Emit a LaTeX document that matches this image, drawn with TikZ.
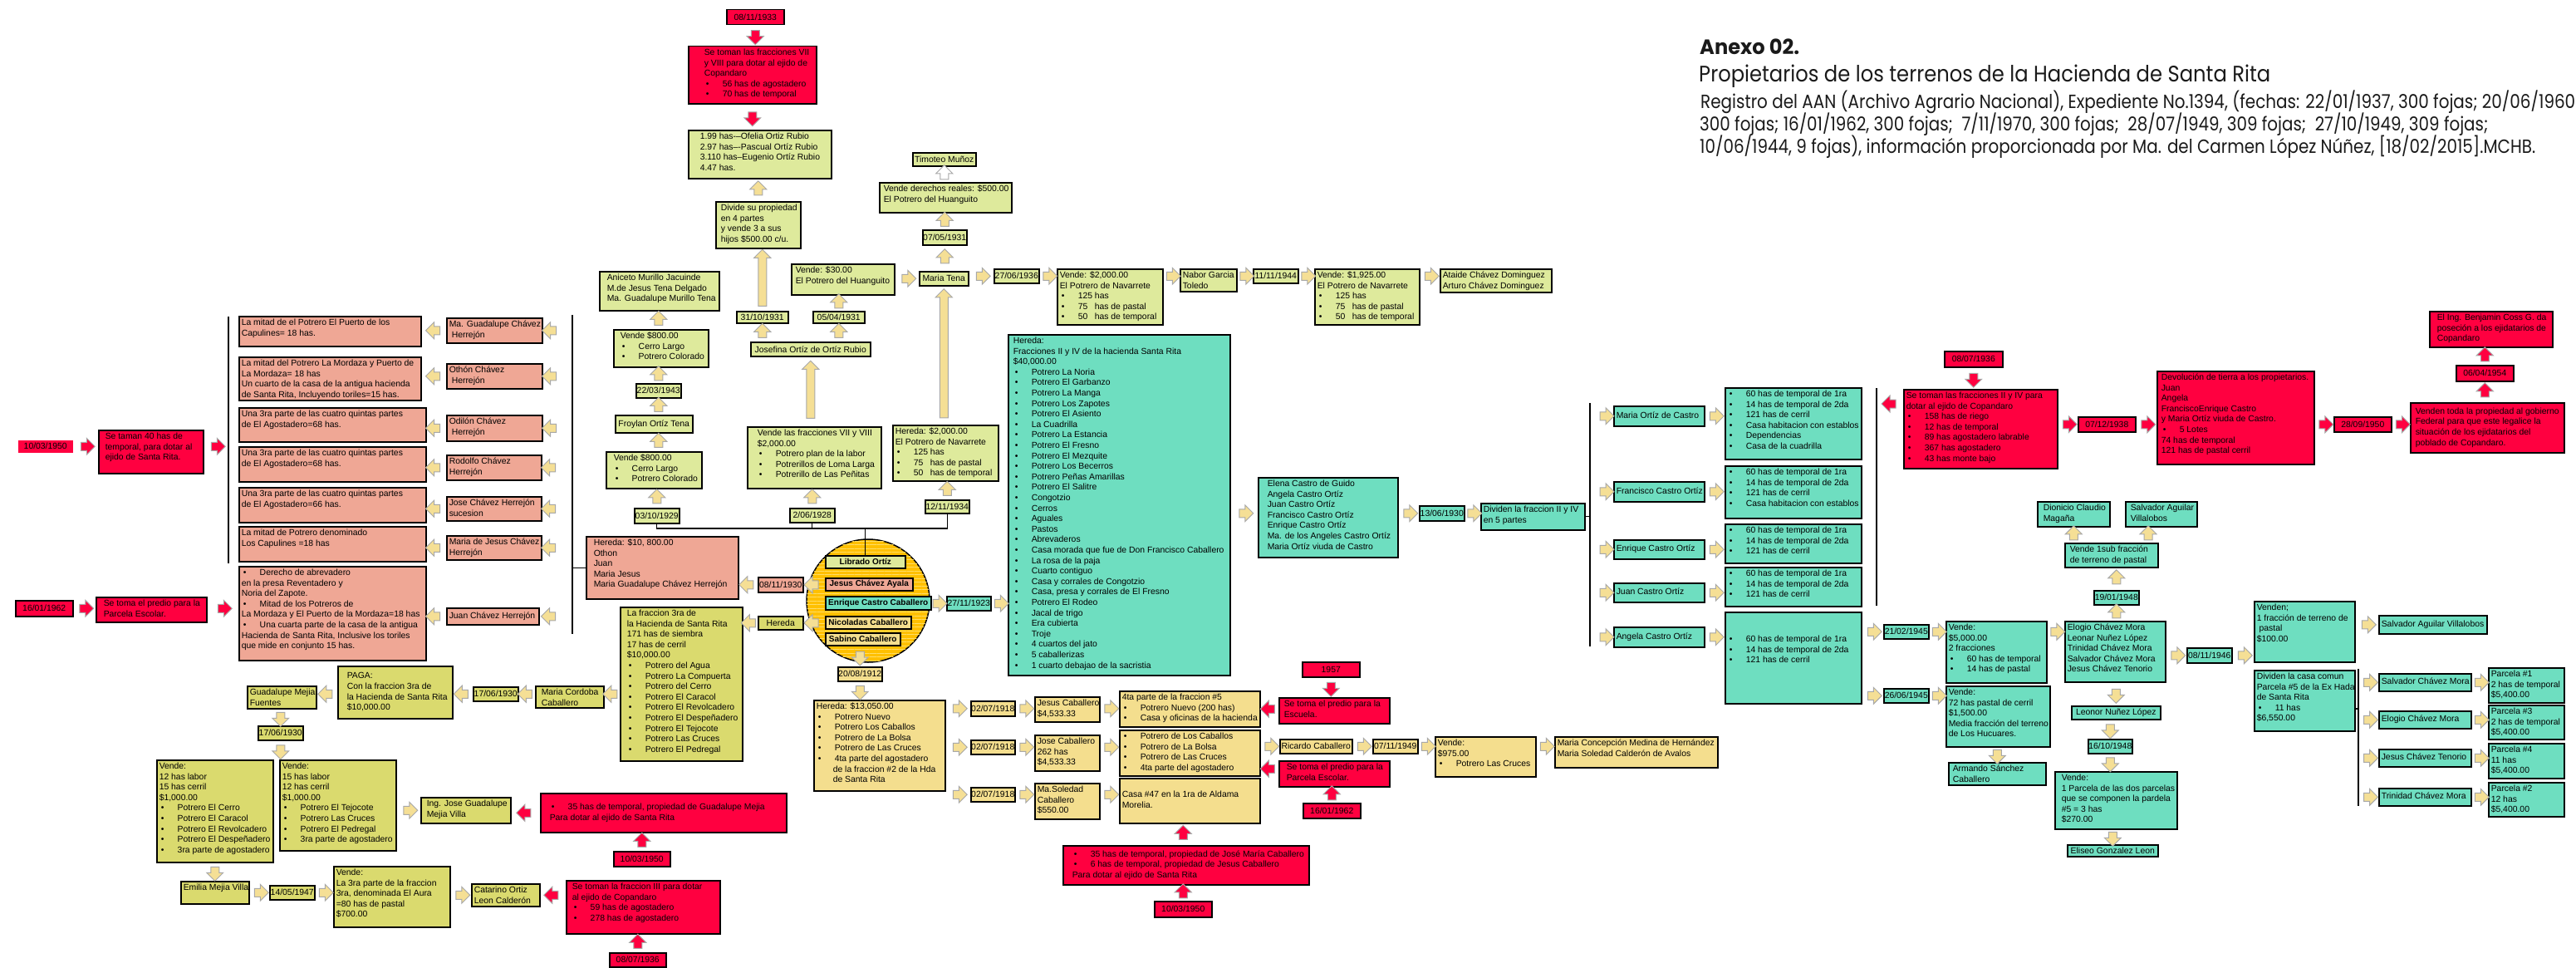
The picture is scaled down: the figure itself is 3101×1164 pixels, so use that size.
\documentclass[tikz,border=0pt]{standalone}
\usepackage{fontspec}
\setmainfont{Liberation Sans}
\newfontfamily\titlefont{Poppins}
\usepackage{graphicx}
\usetikzlibrary{shapes.arrows,calc,patterns.meta}
\definecolor{red0}{HTML}{FF0040}
\definecolor{lime0}{HTML}{DEEA9C}
\definecolor{olive0}{HTML}{DADA6E}
\definecolor{salm0}{HTML}{EFA795}
\definecolor{teal0}{HTML}{6EDEC0}
\definecolor{beig0}{HTML}{F4DE8E}
\definecolor{orng0}{HTML}{FFC000}
\definecolor{strp}{HTML}{FFDD66}
\definecolor{arrf}{HTML}{F5DF95}
\definecolor{arrg}{HTML}{A8A8A8}
\definecolor{titlec}{HTML}{1A1A1A}
\newcounter{ac}
\newcommand\bxind{0pt}
\newcommand\bl{\makebox[22pt][l]{\hspace{2pt}•}}
\newcommand\bodyfont{\fontsize{10.4}{12.6}\selectfont}
% box with top/centre aligned text: [align]{name}{style}{x1}{y1}{x2}{y2}{lines}
\newcommand\bx[8][t]{%
  \pgfmathsetmacro\bxw{#6-#4-6}%
  \pgfmathsetmacro\bxh{#7-#5-4}%
  \node[bxs,#3,anchor=north west,inner xsep=3pt,inner ysep=2pt] (#2) at (#4,#5)
  {\parbox[t][\bxh pt][#1]{\bxw pt}{\begin{tabular}[t]{@{\hspace{\bxind}}l@{}}#8\end{tabular}}};}
% box with centred single line
\newcommand\bz[7]{%
  \pgfmathsetmacro\bxw{#5-#3}%
  \pgfmathsetmacro\bxh{#6-#4}%
  \node[bxs,#2,anchor=north west,minimum width=\bxw pt,minimum height=\bxh pt,inner sep=0pt] (#1) at (#3,#4) {#7};}
% block arrows
\newcommand\arw[4][yarr]{\stepcounter{ac}\node[#1,rotate=#2] (ar\theac) at ($(#3)!.5!(#4)$) {};}
\newcommand\arwat[3][yarr]{\stepcounter{ac}\node[#1,rotate=#2] (ar\theac) at (#3) {};}
\tikzset{
  bxs/.style={draw=black,line width=1.5pt,font=\bodyfont},
  fR/.style={fill=red0}, fG/.style={fill=lime0}, fO/.style={fill=olive0},
  fS/.style={fill=salm0}, fT/.style={fill=teal0}, fY/.style={fill=beig0},
  cb/.style={font=\fontsize{10}{12}\selectfont\bfseries},
  arrb/.style={single arrow,draw=arrg,line width=1pt,minimum height=17pt,inner xsep=0pt,inner ysep=4.5pt,single arrow head extend=5pt,single arrow tip angle=90},
  yarr/.style={arrb,fill=arrf},
  rarr/.style={arrb,fill=red0},
  warr/.style={arrb,fill=white},
  conn/.style={line width=1.4pt,black},
  tst/.style={anchor=base west,inner sep=0pt,text=titlec},
}
\begin{document}
\begin{tikzpicture}[x=1pt,y=-1pt]
\fill[white] (0,0) rectangle (3101,1164);
\useasboundingbox (0,0) rectangle (3101,1164);
\coordinate (v1t) at (275,381); \coordinate (v1b) at (275,678);
\coordinate (v2t) at (689,379); \coordinate (v2b) at (689,763);
\coordinate (jn) at (1041,636);
\coordinate (v4t) at (1914,485); \coordinate (v4b) at (1914,778);
\coordinate (v5t) at (2259,467); \coordinate (v5b) at (2259,729);
\coordinate (v6t) at (2839,805); \coordinate (v6b) at (2839,970);
\coordinate (h6) at (2839,853);

% ===== title
\node[tst] (ti1) at (2046,66) {\resizebox{120pt}{\height}{\titlefont\bfseries\fontsize{25}{30}\selectfont Anexo 02.}};
\node[tst] (ti2) at (2045,98) {\resizebox{688pt}{\height}{\titlefont\fontsize{27}{30}\selectfont Propietarios de los terrenos de la Hacienda de Santa Rita}};
\node[tst] (ti3) at (2047,130) {\resizebox{1053pt}{\height}{\titlefont\fontsize{23}{28}\selectfont Registro del AAN (Archivo Agrario Nacional), Expediente No.1394, (fechas: 22/01/1937, 300 fojas; 20/06/1960}};
\node[tst] (ti4) at (2046,157) {\resizebox{949pt}{\height}{\titlefont\fontsize{23}{28}\selectfont 300 fojas; 16/01/1962, 300 fojas;\ \ 7/11/1970, 300 fojas;\ \ 28/07/1949, 309 fojas;\ \ 27/10/1949, 309 fojas;}};
\node[tst] (ti5) at (2046,184) {\resizebox{1006pt}{\height}{\titlefont\fontsize{23}{28}\selectfont 10/06/1944, 9 fojas), información proporcionada por Ma. del Carmen López Núñez, [18/02/2015].MCHB.}};

% ===== top-middle column
\bz{d1}{fR}{874}{11}{943}{29}{08/11/1933}
{\renewcommand\bxind{16pt}\bx{r1}{fR}{828}{55}{982}{124}{Se toman las fracciones VII\\y VIII para dotar al ejido de\\Copandaro\\\bl 56 has de agostadero\\\bl 70 has de temporal}}
{\renewcommand\bxind{11pt}\bx{g1}{fG}{828}{156}{1000}{214}{1.99 has-–Ofelia Ortiz Rubio\\2.97 has–-Pascual Ortíz Rubio\\3.110 has–Eugenio Ortíz Rubio\\4.47 has.}}
{\renewcommand\bxind{3pt}\bx{g2}{fG}{861}{242}{963}{298}{Divide su propiedad\\en 4 partes\\y vende 3 a sus\\hijos \$500.00 c/u.}}
\bz{g3}{fG}{886}{374}{948}{388}{31/10/1931}
\bz{g4}{fG}{903}{411}{1047}{428}{Josefina Ortíz de Ortíz Rubio}
\bz{g5}{fG}{978}{374}{1040}{388}{05/04/1931}
{\renewcommand\bxind{2pt}\bx{g6}{fG}{952}{317}{1076}{354}{Vende: \$30.00\\El Potrero del Huanguito}}
{\renewcommand\bxind{9pt}\bx{g7}{fG}{899}{513}{1060}{587}{Vende las fracciones VII y VIII\\\$2,000.00\\\bl Potrero plan de la labor\\\bl Potrerillos de Loma Larga\\\bl Potrerillo de Las Peñitas}}
{\renewcommand\bxind{6pt}\bx{g8}{fG}{721}{326}{865}{373}{Aniceto Murillo Jacuinde\\M.de Jesus Tena Delgado\\Ma. Guadalupe Murillo Tena}}
{\renewcommand\bxind{5pt}\bx{g9}{fG}{738}{396}{852}{441}{Vende \$800.00\\\bl Cerro Largo\\\bl Potrero Colorado}}
\bz{g10}{fG}{765}{461}{819}{478}{22/03/1943}
\bz{g11}{fG}{740}{499}{833}{520}{Froylan Ortíz Tena}
{\renewcommand\bxind{6pt}\bx{g12}{fG}{729}{543}{844}{587}{Vende \$800.00\\\bl Cerro Largo\\\bl Potrero Colorado}}
\bz{g13}{fG}{763}{611}{817}{629}{03/10/1929}
\bz{g14}{fG}{950}{611}{1004}{628}{2/06/1928}
\bz{g15}{fG}{1098}{183}{1174}{199}{Timoteo Muñoz}
{\renewcommand\bxind{2pt}\bx{g16}{fG}{1058}{219}{1217}{255}{Vende derechos reales: \$500.00\\El Potrero del Huanguito}}
\bz{g17}{fG}{1110}{276}{1163}{294}{07/05/1931}
\bz{g18}{fG}{1106}{326}{1165}{343}{Maria Tena}
\bx{g19}{fG}{1074}{511}{1201}{578}{Hereda: \$2,000.00\\El Potrero de Navarrete\\\bl 125 has\\\bl\makebox[20pt][l]{75}has de pastal\\\bl\makebox[20pt][l]{50}has de temporal}
\bz{g20}{fG}{1113}{601}{1166}{617}{12/11/1934}
\bz{g21}{fG}{1196}{323}{1250}{340}{27/06/1936}
\bx{g22}{fG}{1272}{323}{1399}{390}{Vende: \$2,000.00\\El Potrero de Navarrete\\\bl 125 has\\\bl\makebox[20pt][l]{75}has de pastal\\\bl\makebox[20pt][l]{50}has de temporal}
\bx{g23}{fG}{1420}{323}{1488}{350}{Nabor Garcia\\Toledo}
\bz{g24}{fG}{1508}{323}{1562}{340}{11/11/1944}
\bx{g25}{fG}{1582}{323}{1708}{390}{Vende: \$1,925.00\\El Potrero de Navarrete\\\bl 125 has\\\bl\makebox[20pt][l]{75}has de pastal\\\bl\makebox[20pt][l]{50}has de temporal}
\bx{g26}{fG}{1733}{323}{1867}{351}{Ataide Chávez Dominguez\\Arturo Chávez Dominguez}

% ===== salmon block
\bx{s1}{fS}{287}{380}{506}{416}{La mitad de el Potrero El Puerto de los\\Capulines= 18 has.}
\bx{s2}{fS}{287}{429}{506}{481}{La mitad del Potrero La Mordaza y Puerto de\\La Mordaza= 18 has\\Un cuarto de la casa de la antigua hacienda\\de Santa Rita, Incluyendo toriles=15 has.}
\bx{s3}{fS}{287}{490}{512}{531}{Una 3ra parte de las cuatro quintas partes\\de El Agostadero=68 has.}
\bx{s4}{fS}{287}{537}{512}{579}{Una 3ra parte de las cuatro quintas partes\\de El Agostadero=68 has.}
\bx{s5}{fS}{287}{586}{512}{628}{Una 3ra parte de las cuatro quintas partes\\de El Agostadero=66 has.}
\bx{s6}{fS}{287}{633}{512}{675}{La mitad de Potrero denominado\\Los Capulines =18 has}
\bx{s7}{fS}{287}{681}{512}{794}{\bl Derecho de abrevadero\\en la presa Reventadero y\\Noria del Zapote.\\\bl Mitad de los Potreros de\\La Mordaza y El Puerto de la Mordaza=18 has\\\bl Una cuarta parte de la casa de la antigua\\Hacienda de Santa Rita, Inclusive los toriles\\que mide en conjunto 15 has.}
\bx{p1}{fS}{537}{382}{652}{412}{Ma. Guadalupe Chávez\\\hspace{3pt}Herrejón}
\bx{p2}{fS}{537}{437}{652}{467}{Othón Chávez\\\hspace{3pt}Herrejón}
\bx{p3}{fS}{537}{499}{652}{530}{Odilón Chávez\\\hspace{3pt}Herrejón}
\bx{p4}{fS}{537}{547}{651}{577}{Rodolfo Chávez\\Herrejón}
\bx{p5}{fS}{537}{597}{651}{626}{Jose Chávez Herrejón\\sucesion}
\bx{p6}{fS}{537}{644}{651}{673}{Maria de Jesus Chávez\\Herrejón}
\bx[c]{p7}{fS}{537}{731}{648}{751}{Juan Chávez Herrejón}
{\renewcommand\bxind{6pt}\bx{s8}{fS}{705}{645}{888}{720}{Hereda: \$10, 800.00\\Othon\\Juan\\Maria Jesus\\Maria Guadalupe Chávez Herrejón}}
\bz{s9}{fS}{912}{694}{966}{712}{08/11/1930}

% ===== red left
\bz{d2}{fR,draw=none}{21}{529}{87}{544}{10/03/1950}
{\renewcommand\bxind{5pt}\bx{r2}{fR}{118}{517}{244}{569}{Se taman 40 has de\\temporal, para dotar al\\ejido de Santa Rita.}}
\bz{d3}{fR}{18}{722}{87}{741}{16/01/1962}
{\renewcommand\bxind{6pt}\bx{r3}{fR}{115}{718}{248}{748}{Se toma el predio para la\\Parcela Escolar.}}

% ===== olive
{\renewcommand\bxind{5pt}\bx{o1}{fO}{746}{730}{893}{915}{La fraccion 3ra de\\la Hacienda de Santa Rita\\171 has de siembra\\17 has de cerril\\\$10,000.00\\\bl Potrero del Agua\\\bl Potrero La Compuerta\\\bl Potrero del Cerro\\\bl Potrero El Caracol\\\bl Potrero El Revolcadero\\\bl Potrero El Despeñadero\\\bl Potrero El Tejocote\\\bl Potrero Las Cruces\\\bl Potrero El Pedregal}}
\bz{o2}{fO}{912}{741}{966}{757}{Hereda}
{\renewcommand\bxind{4pt}\bx{o3}{fO}{644}{825}{726}{851}{Maria Cordoba\\Caballero}}
\bz{o4}{fO}{569}{826}{623}{843}{17/06/1930}
{\renewcommand\bxind{8pt}\bx[c]{o5}{fO}{406}{801}{544}{864}{PAGA:\\Con la fraccion 3ra de\\la Hacienda de Santa Rita\\\$10,000.00}}
\bx{o6}{fO}{297}{825}{380}{852}{Guadalupe Mejia\\Fuentes}
\bz{o7}{fO}{310}{873}{364}{890}{17/06/1930}
\bx{o8}{fO}{188}{914}{328}{1037}{Vende:\\12 has labor\\15 has cerril\\\$1,000.00\\\bl Potrero El Cerro\\\bl Potrero El Caracol\\\bl Potrero El Revolcadero\\\bl Potrero El Despeñadero\\\bl 3ra parte de agostadero}
\bx{o9}{fO}{336}{914}{476}{1023}{Vende:\\15 has labor\\12 has cerril\\\$1,000.00\\\bl Potrero El Tejocote\\\bl Potrero Las Cruces\\\bl Potrero El Pedregal\\\bl 3ra parte de agostadero}
{\renewcommand\bxind{4pt}\bx{o10}{fO}{506}{959}{614}{990}{Ing. Jose Guadalupe\\Mejia Villa}}
\bx{o11}{fO}{217}{1060}{299}{1087}{Emilia Mejia Villa}
\bz{o12}{fO}{324}{1065}{378}{1082}{14/05/1947}
\bx{o13}{fO}{401}{1042}{541}{1115}{Vende:\\La 3ra parte de la fraccion\\3ra, denominada El Aura\\=80 has de pastal\\\$700.00}
\bx{o14}{fO}{567}{1063}{649}{1090}{Catarino Ortiz\\Leon Calderón}
{\renewcommand\bxind{8pt}\bx[c]{r4}{fR}{650}{954}{946}{1001}{\bl 35 has de temporal, propiedad de Guadalupe Mejia\\Para dotar al ejido de Santa Rita}}
\bz{d4}{fR}{738}{1024}{806}{1042}{10/03/1950}
{\renewcommand\bxind{4pt}\bx{r5}{fR}{681}{1059}{866}{1123}{Se toman la fraccion III para dotar\\al ejido de Copandaro\\\bl 59 has de agostadero\\\bl 278 has de agostadero}}
\bz{d5}{fR}{733}{1146}{801}{1163}{08/07/1936}

% ===== circle
\node[circle,draw=black,line width=1.5pt,fill=orng0,minimum size=148pt,inner sep=0pt,
  postaction={pattern={Lines[angle=0,distance=4.5pt,line width=0.7pt]},pattern color=strp}] (circ) at (1045,723) {};
\bz{c1}{fG,cb}{993}{668}{1089}{683}{Librado Ortíz}
\bz{c2}{fS,cb}{993}{695}{1098}{710}{Jesus Chávez Ayala}
\bz{c3}{fT,cb}{993}{717}{1120}{733}{Enrique Castro Caballero}
\bz{c4}{fY,cb}{993}{741}{1096}{756}{Nicoladas Caballero}
\bz{c5}{fY,cb}{993}{761}{1083}{776}{Sabino Caballero}

% ===== beige (Caballero)
\bz{y1}{fY}{1008}{802}{1061}{819}{20/08/1912}
\bx{y2}{fY}{979}{842}{1137}{951}{Hereda: \$13,050.00\\\bl Potrero Nuevo\\\bl Potrero Los Caballos\\\bl Potrero de La Bolsa\\\bl Potrero de Las Cruces\\\bl 4ta parte del agostadero\\\hspace*{20pt}de la fraccion \#2 de la Hda\\\hspace*{20pt}de Santa Rita}
\bz{y3}{fY}{1168}{843}{1221}{861}{02/07/1918}
\bz{y4}{fY}{1168}{890}{1221}{907}{02/07/1918}
\bz{y5}{fY}{1168}{947}{1221}{964}{02/07/1918}
\bx{y6}{fY}{1245}{838}{1323}{868}{Jesus Caballero\\\$4,533.33}
\bx{y7}{fY}{1245}{884}{1323}{927}{Jose Caballero\\262 has\\\$4,533.33}
\bx{y8}{fY}{1245}{942}{1323}{985}{Ma.Soledad\\Caballero\\\$550.00}
\bx{y9}{fY}{1347}{831}{1516}{874}{4ta parte de la fraccion \#5\\\bl Potrero Nuevo (200 has)\\\bl Casa y oficinas de la hacienda}
\bx{y10}{fY}{1347}{878}{1516}{933}{\bl Potrero de Los Caballos\\\bl Potrero de La Bolsa\\\bl Potrero de Las Cruces\\\bl 4ta parte del agostadero}
\bx[c]{y11}{fY}{1347}{936}{1516}{990}{Casa \#47 en la 1ra de Aldama\\Morelia.}
{\renewcommand\bxind{8pt}\bx[c]{r6}{fR}{1279}{1017}{1575}{1064}{\bl 35 has de temporal, propiedad de José María Caballero\\\bl 6 has de temporal, propiedad de Jesus Caballero\\Para dotar al ejido de Santa Rita}}
\bz{d6}{fR}{1389}{1084}{1458}{1103}{10/03/1950}
\bz{d7}{fR}{1567}{796}{1636}{814}{1957}
{\renewcommand\bxind{3pt}\bx{r7}{fR}{1539}{839}{1672}{870}{Se toma el predio para la\\Escuela.}}
\bz{y12}{fY}{1540}{889}{1627}{906}{Ricardo Caballero}
\bz{y13}{fY}{1652}{889}{1706}{906}{07/11/1949}
\bx{y14}{fY}{1727}{886}{1848}{934}{Vende:\\\$975.00\\\bl Potrero Las Cruces}
\bx{y15}{fY}{1871}{886}{2067}{923}{Maria Concepción Medina de Hernández\\Maria Soledad Calderón de Avalos}
{\renewcommand\bxind{6pt}\bx{r8}{fR}{1539}{915}{1672}{946}{Se toma el predio para la\\Parcela Escolar.}}
\bz{d8}{fR}{1568}{966}{1637}{984}{16/01/1962}

% ===== teal
\bz{t1}{fT}{1139}{717}{1192}{734}{27/11/1923}
{\renewcommand\bxind{3pt}\bx{t2}{fT}{1213}{402}{1480}{812}{Hereda:\\Fracciones II y IV de la hacienda Santa Rita\\\$40,000.00\\\bl Potrero La Noria\\\bl Potrero El Garbanzo\\\bl Potrero La Manga\\\bl Potrero Los Zapotes\\\bl Potrero El Asiento\\\bl La Cuadrilla\\\bl Potrero La Estancia\\\bl Potrero El Fresno\\\bl Potrero El Mezquite\\\bl Potrero Los Becerros\\\bl Potrero Peñas Amarillas\\\bl Potrero El Salitre\\\bl Congotzio\\\bl Cerros\\\bl Aguales\\\bl Pastos\\\bl Abrevaderos\\\bl Casa morada que fue de Don Francisco Caballero\\\bl La rosa de la paja\\\bl Cuarto contiguo\\\bl Casa y corrales de Congotzio\\\bl Casa, presa y corrales de El Fresno\\\bl Potrero El Rodeo\\\bl Jacal de trigo\\\bl Era cubierta\\\bl Troje\\\bl 4 cuartos del jato\\\bl 5 caballerizas\\\bl 1 cuarto debajao de la sacristia}}
{\renewcommand\bxind{8pt}\bx{t3}{fT}{1514}{574}{1682}{670}{Elena Castro de Guido\\Angela Castro Ortíz\\Juan Castro Ortíz\\Francisco Castro Ortíz\\Enrique Castro Ortíz\\Ma. de los Angeles Castro Ortíz\\Maria Ortíz viuda de Castro}}
\bz{t4}{fT}{1708}{608}{1762}{626}{13/06/1930}
\bx{t5}{fT}{1782}{605}{1907}{637}{Dividen la fraccion II y IV\\en 5 partes}
\bx[c]{t6}{fT}{1942}{488}{2051}{512}{Maria Ortíz de Castro}
\bx[c]{t7}{fT}{1942}{579}{2051}{603}{Francisco Castro Ortíz}
\bx[c]{t8}{fT}{1942}{649}{2051}{672}{Enrique Castro Ortíz}
\bx[c]{t9}{fT}{1942}{701}{2051}{724}{Juan Castro Ortíz}
\bx[c]{t10}{fT}{1942}{754}{2051}{778}{Angela Castro Ortíz}
\bx{t11}{fT}{2076}{466}{2240}{552}{\bl 60 has de temporal de 1ra\\\bl 14 has de temporal de 2da\\\bl 121 has de cerril\\\bl Casa habitacion con establos\\\bl Dependencias\\\bl Casa de la cuadrilla}
\bx{t12}{fT}{2076}{560}{2240}{623}{\bl 60 has de temporal de 1ra\\\bl 14 has de temporal de 2da\\\bl 121 has de cerril\\\bl Casa habitacion con establos}
\bx{t13}{fT}{2076}{630}{2240}{677}{\bl 60 has de temporal de 1ra\\\bl 14 has de temporal de 2da\\\bl 121 has de cerril}
\bx{t14}{fT}{2076}{682}{2240}{729}{\bl 60 has de temporal de 1ra\\\bl 14 has de temporal de 2da\\\bl 121 has de cerril}
\bx{t15}{fT}{2076}{736}{2240}{846}{{}\\{}\\\bl 60 has de temporal de 1ra\\\bl 14 has de temporal de 2da\\\bl 121 has de cerril}
\bz{t16}{fT}{2267}{751}{2321}{768}{21/02/1945}
\bx{t17}{fT}{2342}{747}{2463}{821}{Vende:\\\$5,000.00\\2 fracciones\\\bl 60 has de temporal\\\bl 14 has de pastal}
\bz{t18}{fT}{2267}{828}{2321}{845}{26/06/1945}
\bx{t19}{fT}{2342}{825}{2467}{898}{Vende:\\72 has pastal de cerril\\\$1,500.00\\Media fracción del terreno\\de Los Hucuares.}
{\renewcommand\bxind{2pt}\bx{t20}{fT}{2345}{917}{2462}{944}{Armando Sánchez\\Caballero}}
\bx{t21}{fT}{2485}{747}{2606}{820}{Elogio Chávez Mora\\Leonar Nuñez López\\Trinidad Chávez Mora\\Salvador Chávez Mora\\Jesus Chávez Tenorio}
\bz{t22}{fT}{2520}{710}{2574}{727}{19/01/1948}
{\renewcommand\bxind{3pt}\bx{t23}{fT}{2485}{653}{2597}{682}{Vende 1sub fracción\\de terreno de pastal}}
{\renewcommand\bxind{4pt}\bx{t24}{fT}{2452}{603}{2539}{633}{Dionicio Claudio\\Magaña}}
{\renewcommand\bxind{3pt}\bx{t25}{fT}{2558}{603}{2644}{633}{Salvador Aguilar\\Villalobos}}
\bz{t26}{fT}{2493}{849}{2600}{865}{Leonor Nuñez López}
\bz{t27}{fT}{2513}{889}{2566}{906}{16/10/1948}
{\renewcommand\bxind{5pt}\bx{t28}{fT}{2473}{928}{2620}{997}{Vende:\\1 Parcela de las dos parcelas\\que se componen la pardela\\\#5 = 3 has\\\$270.00}}
\bz{t29}{fT}{2488}{1016}{2597}{1030}{Eliseo Gonzalez Leon}
\bz{t30}{fT}{2632}{779}{2686}{797}{08/11/1946}
\bx{t31}{fT}{2713}{723}{2834}{796}{Venden;\\1 fracción de terreno de\\\ pastal\\\$100.00}
\bx{t32}{fT}{2713}{806}{2834}{879}{Dividen la casa comun\\Parcela \#5 de la Ex Hada\\de Santa Rita\\\bl 11 has\\\$6,550.00}
\bx[c]{t33}{fT}{2863}{740}{2993}{762}{Salvador Aguilar Villalobos}
\bx[c]{t34}{fT}{2863}{810}{2974}{831}{Salvador Chávez Mora}
\bx[c]{t35}{fT}{2863}{855}{2974}{876}{Elogio Chávez Mora}
\bx[c]{t36}{fT}{2863}{901}{2974}{922}{Jesus Chávez Tenorio}
\bx[c]{t37}{fT}{2863}{948}{2974}{969}{Trinidad Chávez Mora}
\bx{t38}{fT}{2995}{803}{3086}{845}{Parcela \#1\\2 has de temporal\\\$5,400.00}
\bx{t39}{fT}{2995}{848}{3086}{889}{Parcela \#3\\2 has de temporal\\\$5,400.00}
\bx{t40}{fT}{2995}{894}{3086}{936}{Parcela \#4\\11 has\\\$5,400.00}
\bx{t41}{fT}{2995}{941}{3086}{982}{Parcela \#2\\12 has\\\$5,400.00}

% ===== red right
\bz{d9}{fR}{2340}{422}{2410}{441}{08/07/1936}
\bx{r9}{fR}{2291}{468}{2476}{563}{Se toman las fracciones II y IV para\\dotar al ejido de Copandaro\\\bl 158 has de riego\\\bl 12 has de temporal\\\bl 89 has agostadero labrable\\\bl 367 has agostadero\\\bl 43 has monte bajo}
\bz{d10}{fR}{2501}{501}{2570}{519}{07/12/1938}
{\renewcommand\bxind{2pt}\bx{r10}{fR}{2596}{446}{2785}{558}{Devolución de tierra a los propietarios.\\Juan\\Angela\\FranciscoEnrique Castro\\y Maria Ortíz viuda de Castro.\\\bl 5 Lotes\\74 has de temporal\\121 has de pastal cerril}}
\bz{d11}{fR}{2809}{501}{2878}{519}{28/09/1950}
{\renewcommand\bxind{3pt}\bx[c]{r11}{fR}{2901}{484}{3086}{544}{Venden toda la propiedad al gobierno\\Federal para que este legalice la\\situación de los ejidatarios del\\poblado de Copandaro.}}
\bz{d12}{fR}{2956}{439}{3025}{458}{06/04/1954}
{\renewcommand\bxind{6pt}\bx{r12}{fR}{2924}{374}{3072}{417}{El Ing. Benjamin Coss G. da\\poseción a los ejidatarios de\\Copandaro}}

% ===== plain connector lines
\draw[conn] (v1t) -- (v1b);
\draw[conn] (v2t) -- (v2b);
\draw[conn] (v2t |- s8.west) -- (s8.west);
\draw[conn] (g13.south) |- (g20.south |- jn) -- (g20.south);
\draw[conn] (g14.south) -- (g14.south |- jn);
\draw[conn] (jn -| c1.north) -- (c1.north);
\draw[conn] (v4t) -- (v4b);
\draw[conn] (t5.east) -- (t5.east -| v4t);
\draw[conn] (v5t) -- (v5b);
\draw[conn] (v6t) -- (v6b);
\draw[conn] (h6 -| t32.east) -- (h6);

% ===== block arrows: top column
\arw[rarr]{-90}{d1.south}{d1.south |- r1.north}
\arw[rarr]{-90}{r1.south}{r1.south |- g1.north}
\arw{90}{g2.north}{g2.north |- g1.south}
\arw[yarr,minimum height=68pt]{90}{g3.north}{g3.north |- g2.south}
\arw{90}{g4.north -| g3.south}{g3.south}
\arw{90}{g4.north -| g5.south}{g5.south}
\arw{90}{g5.north}{g5.north |- g6.south}
\arw[yarr,minimum height=69pt]{90}{g7.north -| g4.south}{g4.south}
\arw{90}{g14.north}{g14.north |- g7.south}
\arw{90}{g9.north -| g10.south}{g8.south -| g10.south}
\arw{90}{g10.north}{g9.south -| g10.north}
\arw{90}{g11.north -| g10.north}{g10.south}
\arw{90}{g12.north -| g10.north}{g11.south -| g10.north}
\arw{90}{g13.north}{g12.south -| g13.north}
\arw[warr]{90}{g16.north -| g15.south}{g15.south}
\arw{90}{g17.north}{g17.north |- g16.south}
\arw{90}{g18.north -| g17.south}{g17.south}
\arw{0}{g6.east |- g18.west}{g18.west}
\arw[yarr,minimum height=155pt]{90}{g19.north -| g18.south}{g18.south}
\arw{90}{g20.north}{g20.north |- g19.south}
\arw{0}{g18.east |- g21.west}{g21.west}
\arw{0}{g21.east}{g21.east -| g22.west}
\arw{0}{g22.east |- g24.west}{g23.west |- g24.west}
\arw{0}{g23.east |- g24.west}{g24.west}
\arw{0}{g24.east}{g24.east -| g25.west}
\arw{0}{g25.east |- g24.east}{g26.west |- g24.east}

% salmon arrows
\arwat{180}{$(p1.west)+(-13.5,0)$} \arwat{180}{$(p1.east)+(10,0)$}
\arwat{180}{$(p2.west)+(-13.5,0)$} \arwat{180}{$(p2.east)+(10,0)$}
\arwat{180}{$(p3.west)+(-13.5,0)$} \arwat{180}{$(p3.east)+(10,0)$}
\arwat{180}{$(p4.west)+(-13.5,0)$} \arwat{180}{$(p4.east)+(10,0)$}
\arwat{180}{$(p5.west)+(-13.5,0)$} \arwat{180}{$(p5.east)+(10,0)$}
\arwat{180}{$(p6.west)+(-13.5,0)$} \arwat{180}{$(p6.east)+(10,0)$}
\arwat{180}{$(p7.west)+(-13.5,0)$} \arwat{180}{$(p7.east)+(13,0)$}
\arw{180}{s8.east |- s9.west}{s9.west}
\arwat{180}{$(s9.east)+(11.5,0)$}

% olive arrows
\arw{180}{o1.east |- o2.west}{o2.west}
\arwat{180}{$(o2.east)+(11.5,0)$}
\arw{180}{o1.west |- o4.east}{o3.east |- o4.east}
\arw{180}{o3.west |- o4.east}{o4.east}
\arw{180}{o4.west}{o4.west -| o5.east}
\arw{180}{o5.west |- o4.west}{o6.east |- o4.west}
\arw{-90}{o6.south -| o7.north}{o7.north}
\arw{-90}{o7.south}{o7.south |- o8.north}
\arw{0}{o9.east |- o10.west}{o10.west}
\arw{-90}{o8.south -| o11.north}{o11.north}
\arw{0}{o11.east |- o12.west}{o12.west}
\arw{0}{o12.east}{o12.east -| o13.west}
\arw{0}{o13.east |- o14.west}{o14.west}

% red arrows left
\arw[rarr]{0}{d2.east}{d2.east -| r2.west}
\arw[rarr]{0}{r2.east |- d2.east}{v1t |- d2.east}
\arw[rarr]{0}{d3.east}{d3.east -| r3.west}
\arw[rarr]{0}{r3.east |- d3.east}{s7.west |- d3.east}
\arw[rarr]{180}{r4.west}{r4.west -| o10.east}
\arw[rarr]{90}{d4.north}{d4.north |- r4.south}
\arw[rarr]{180}{r5.west |- o14.east}{o14.east}
\arw[rarr]{90}{d5.north}{d5.north |- r5.south}

% circle / Caballero arrows
\arwat{-90}{$(y1.north)+(0,-12)$}
\arw{-90}{y1.south}{y1.south |- y2.north}
\arw{0}{y2.east |- y3.west}{y3.west}
\arw{0}{y2.east |- y4.west}{y4.west}
\arw{0}{y2.east |- y5.west}{y5.west}
\arw{0}{y3.east}{y3.east -| y6.west}
\arw{0}{y4.east}{y4.east -| y7.west}
\arw{0}{y5.east}{y5.east -| y8.west}
\arw{0}{y6.east |- y3.east}{y9.west |- y3.east}
\arw{0}{y7.east |- y4.east}{y10.west |- y4.east}
\arw{0}{y8.east |- y5.east}{y11.west |- y5.east}
\arw[rarr]{90}{r6.north -| d6.north}{y11.south -| d6.north}
\arw[rarr]{90}{d6.north}{d6.north |- r6.south}
\arw[rarr]{-90}{d7.south}{d7.south |- r7.north}
\arw[rarr]{180}{r7.west |- y9.east}{y9.east}
\arw{0}{y10.east |- y12.west}{y12.west}
\arw{0}{y12.east}{y12.east -| y13.west}
\arw{0}{y13.east}{y13.east -| y14.west}
\arw{0}{y14.east |- y13.east}{y15.west |- y13.east}
\arwat[rarr]{180}{$(r8.west)!.5!(r8.west -| y10.east)+(0,-6)$}
\arw[rarr]{90}{d8.north}{d8.north |- r8.south}

% teal arrows
\arwat{0}{$(t1.west)+(-10,0)$}
\arw{0}{t1.east}{t1.east -| t2.west}
\arw{0}{t2.east |- t4.west}{t3.west |- t4.west}
\arw{0}{t3.east |- t4.west}{t4.west}
\arw{0}{t4.east}{t4.east -| t5.west}
\arwat{0}{$(t6.west)+(-10,0)$}
\arwat{0}{$(t7.west)+(-10,0)$}
\arwat{0}{$(t8.west)+(-10,0)$}
\arwat{0}{$(t9.west)+(-10,0)$}
\arwat{0}{$(t10.west)+(-10,0)$}
\arw{0}{t6.east}{t6.east -| t11.west}
\arw{0}{t7.east}{t7.east -| t12.west}
\arw{0}{t8.east}{t8.east -| t13.west}
\arw{0}{t9.east}{t9.east -| t14.west}
\arw{0}{t10.east}{t10.east -| t15.west}
\arw{0}{t15.east |- t16.west}{t16.west}
\arw{0}{t15.east |- t18.west}{t18.west}
\arw{0}{t16.east}{t16.east -| t17.west}
\arw{0}{t18.east}{t18.east -| t19.west}
\arw{-90}{t19.south -| t20.north}{t20.north}
\arw{0}{t17.east |- t16.east}{t21.west |- t16.east}
\arw{90}{t21.north -| t22.south}{t22.south}
\arw{90}{t22.north}{t22.north |- t23.south}
\arw{90}{t23.north -| t24.south}{t24.south}
\arwat{90}{$(t25.south west)!.5!(t25.south west |- t23.north)+(28,0)$}
\arw{-90}{t21.south -| t26.north}{t26.north}
\arw{-90}{t26.south -| t27.north}{t27.north}
\arw{-90}{t27.south}{t27.south |- t28.north}
\arw{-90}{t28.south -| t29.north}{t29.north}
\arw{0}{t21.east |- t30.west}{t30.west}
\arw{0}{t30.east}{t30.east -| t31.west}
\arw{0}{t31.east |- t33.west}{t33.west}
\arwat{0}{$(t34.west)+(-11.5,0)$}
\arwat{0}{$(t35.west)+(-11.5,0)$}
\arwat{0}{$(t36.west)+(-11.5,0)$}
\arwat{0}{$(t37.west)+(-11.5,0)$}
\arw{0}{t34.east}{t34.east -| t38.west}
\arw{0}{t35.east}{t35.east -| t39.west}
\arw{0}{t36.east}{t36.east -| t40.west}
\arw{0}{t37.east}{t37.east -| t41.west}

% red arrows right
\arwat[rarr]{180}{$(v5t |- r9.north)+(17,18)$}
\arw[rarr]{-90}{d9.south}{d9.south |- r9.north}
\arw[rarr]{0}{r9.east |- d10.west}{d10.west}
\arw[rarr]{0}{d10.east}{d10.east -| r10.west}
\arw[rarr]{0}{r10.east |- d11.west}{d11.west}
\arw[rarr]{0}{d11.east}{d11.east -| r11.west}
\arw[rarr]{90}{r11.north -| d12.south}{d12.south}
\arw[rarr]{90}{d12.north}{d12.north |- r12.south}
\end{tikzpicture}
\end{document}
